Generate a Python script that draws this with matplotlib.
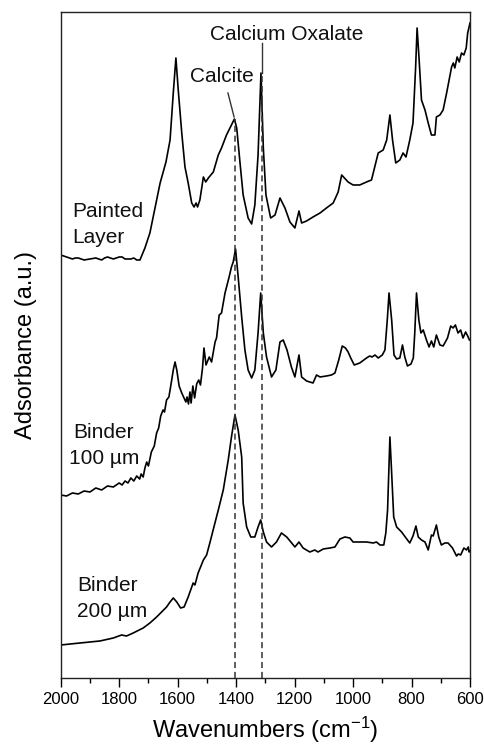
import matplotlib
matplotlib.use("Agg")
import matplotlib.pyplot as plt
import numpy as np

plt.rcParams['font.family'] = ['Liberation Sans', 'DejaVu Sans']
plt.rcParams['mathtext.fontset'] = 'custom'
plt.rcParams['mathtext.rm'] = 'Liberation Sans'
plt.rcParams['mathtext.it'] = 'Liberation Sans:italic'

# spectra (wavenumber in cm-1, absorbance in a.u., offset already included)
painted_wn = [2000, 1980, 1960, 1950, 1940, 1920, 1900, 1880, 1860, 1850, 1840, 1820, 1800, 1790,
              1780, 1760, 1750, 1740, 1729, 1712, 1695, 1660, 1640, 1626, 1615, 1606, 1598, 1586,
              1575, 1564, 1552, 1544, 1537, 1532, 1524, 1512, 1504, 1495, 1478, 1461, 1450, 1433,
              1416, 1406, 1398, 1387, 1376, 1359, 1347, 1336, 1325, 1315, 1307, 1298, 1282, 1267,
              1250, 1233, 1216, 1199, 1185, 1176, 1159, 1137, 1113, 1091, 1068, 1051, 1039, 1017,
              1000, 977, 954, 937, 914, 897, 885, 874, 865, 854, 840, 829, 819, 806, 795, 786, 781,
              774, 766, 754, 743, 732, 720, 715, 703, 692, 680, 663, 657, 652, 644, 637, 629, 621,
              613, 608, 600]
painted_abs = [423, 421, 419, 420, 420, 418, 419, 420, 418, 420, 421, 419, 421, 421,
               419, 419, 420, 418, 418, 430, 445, 495, 516, 538, 585, 620, 588, 545,
               511, 495, 475, 471, 475, 471, 478, 501, 496, 500, 506, 523, 530, 543,
               553, 559, 550, 516, 483, 460, 454, 473, 523, 605, 530, 483, 460, 463,
               480, 470, 456, 450, 467, 455, 457, 461, 465, 470, 475, 486, 503, 496,
               493, 493, 496, 498, 525, 528, 538, 563, 538, 515, 518, 525, 521, 538, 555, 611, 650,
               618, 578, 568, 555, 543, 543, 561, 563, 568, 585, 611, 615, 610, 621, 616, 625, 623,
               630, 645, 655]

binder100_wn = [2000, 1980, 1960, 1940, 1920, 1900, 1880, 1860, 1840, 1820, 1800, 1790, 1780, 1770,
                1760, 1750, 1740, 1730, 1725, 1718, 1712, 1706, 1700, 1690, 1680, 1672, 1665, 1658,
                1650, 1645, 1638, 1630, 1622, 1615, 1609, 1603, 1595, 1586, 1578, 1572, 1568, 1563,
                1558, 1554, 1548, 1542, 1535, 1528, 1522, 1515, 1510, 1503, 1492, 1484, 1472, 1467,
                1458, 1450, 1438, 1424, 1416, 1410, 1402, 1393, 1381, 1370, 1359, 1347, 1336, 1325,
                1316, 1307, 1296, 1279, 1264, 1250, 1239, 1226, 1211, 1199, 1185, 1176, 1159, 1137,
                1125, 1113, 1091, 1074, 1062, 1049, 1037, 1026, 1017, 1008, 996, 977, 954, 943, 935,
                925, 914, 900, 891, 883, 877, 868, 860, 851, 840, 831, 823, 814, 802, 794, 789, 783,
                775, 768, 760, 749, 740, 732, 724, 715, 703, 692, 677, 666, 658, 650, 641, 632, 624,
                615, 608, 602]
binder100_abs = [183, 182, 185, 184, 187, 186, 190, 188, 192, 191, 195, 193, 197, 195,
                 200, 197, 202, 199, 204, 201, 210, 216, 212, 226, 232, 245, 250, 262,
                 268, 266, 278, 281, 295, 308, 316, 308, 292, 285, 280, 276, 281, 274,
                 286, 275, 292, 280, 294, 298, 293, 310, 330, 313, 321, 316, 336, 340,
                 363, 365, 385, 401, 411, 416, 429, 401, 361, 328, 308, 300, 308, 345,
                 385, 345, 321, 301, 308, 336, 338, 328, 311, 301, 323, 301, 297, 295,
                 303, 301, 302, 303, 305, 318, 332, 330, 326, 320, 313, 315, 320, 322, 321,
                 323, 320, 323, 328, 358, 385, 358, 323, 319, 320, 333, 321, 312, 314, 320, 345, 385,
                 358, 345, 348, 338, 331, 337, 331, 343, 333, 332, 340, 352, 350, 353, 345, 348, 340,
                 346, 342, 338]

binder200_wn = [2000, 1934, 1866, 1820, 1792, 1775, 1752, 1718, 1695, 1672, 1655, 1638, 1626, 1615,
                1603, 1590, 1578, 1564, 1547, 1541, 1530, 1512, 1501, 1490, 1476, 1461, 1444, 1427,
                1416, 1404, 1393, 1381, 1376, 1364, 1350, 1336, 1325, 1316, 1307, 1296, 1279, 1262,
                1245, 1227, 1210, 1199, 1185, 1171, 1148, 1131, 1120, 1102, 1079, 1062, 1045, 1028,
                1011, 1000, 977, 954, 931, 920, 908, 895, 888, 882, 874, 869, 861, 851, 834, 819, 806,
                795, 785, 777, 766, 754, 743, 732, 726, 715, 707, 698, 686, 675, 660, 646, 640, 632,
                621, 612, 606, 603, 600]
binder200_abs = [33, 35, 37, 40, 43, 42, 45, 50, 55, 61, 66, 71, 76, 80,
                 76, 70, 71, 81, 95, 93, 105, 118, 123, 135, 151, 168, 188, 218,
                 241, 263, 248, 221, 175, 151, 141, 141, 151, 158, 146, 136, 131, 136,
                 145, 141, 135, 131, 136, 130, 126, 128, 126, 129, 130, 131, 139, 141,
                 140, 136, 136, 136, 135, 136, 133, 133, 145, 168, 241, 211, 161, 151, 146, 140, 135,
                 142, 152, 141, 138, 136, 128, 143, 142, 153, 141, 133, 135, 135, 130, 122, 124, 123,
                 130, 128, 131, 126, 127]

spectra = [(painted_wn, painted_abs), (binder100_wn, binder100_abs), (binder200_wn, binder200_abs)]

calcite_wn = 1404
oxalate_wn = 1312


def main():
    fig = plt.figure(figsize=(4.85, 7.49), dpi=100)
    ax = fig.add_axes([0.1252, 0.0948, 0.8439, 0.8892])

    for wn, a in spectra:
        ax.plot(wn, a, color='black', lw=1.2, solid_joinstyle='round')

    # marker lines for the two bands
    calcite_top = painted_abs[painted_wn.index(1406)]
    oxalate_top = painted_abs[painted_wn.index(1315)]
    ax.plot([calcite_wn, calcite_wn], [0, calcite_top], color='#333333', lw=1.1, dashes=(4, 2.5))
    ax.plot([oxalate_wn, oxalate_wn], [0, oxalate_top], color='#333333', lw=1.1, dashes=(4, 2.5))
    ax.plot([oxalate_wn, oxalate_wn], [oxalate_top, 635], color='#333333', lw=1.0)
    ax.plot([1428, 1407], [585, 561], color='#333333', lw=1.0)

    ax.text(1226, 638, 'Calcium Oxalate', fontsize=15, ha='center', va='baseline', color='#111111')
    ax.text(1448, 596, 'Calcite', fontsize=15, ha='center', va='baseline', color='#111111')

    ax.text(1961, 461, 'Painted', fontsize=15, ha='left', va='baseline', color='#111111')
    ax.text(1961, 435, 'Layer', fontsize=15, ha='left', va='baseline', color='#111111')
    ax.text(1852, 240, 'Binder', fontsize=15, ha='center', va='baseline', color='#111111')
    ax.text(1852, 214, '100 µm', fontsize=15, ha='center', va='baseline', color='#111111')
    ax.text(1944, 87, 'Binder', fontsize=15, ha='left', va='baseline', color='#111111')
    ax.text(1944, 61, '200 µm', fontsize=15, ha='left', va='baseline', color='#111111')

    ax.set_xlim(2000, 600)
    ax.set_ylim(0, 666)
    ax.set_xticks(np.arange(2000, 599, -200))
    ax.set_xticks(np.arange(1900, 600, -200), minor=True)
    ax.set_yticks([])
    ax.tick_params(axis='x', which='major', direction='out', length=6.5, width=1.0, labelsize=12, pad=3.5)
    ax.tick_params(axis='x', which='minor', direction='out', length=3.6, width=1.0)
    for s in ax.spines.values():
        s.set_linewidth(1.0)
        s.set_color('#222222')

    ax.set_xlabel('Wavenumbers (cm$^{-1}$)', fontsize=17, labelpad=6)
    ax.set_ylabel('Adsorbance (a.u.)', fontsize=17)
    ax.yaxis.set_label_coords(-0.058, 0.5)

    fig.savefig('out.png', dpi=100)


if __name__ == "__main__":
    main()
